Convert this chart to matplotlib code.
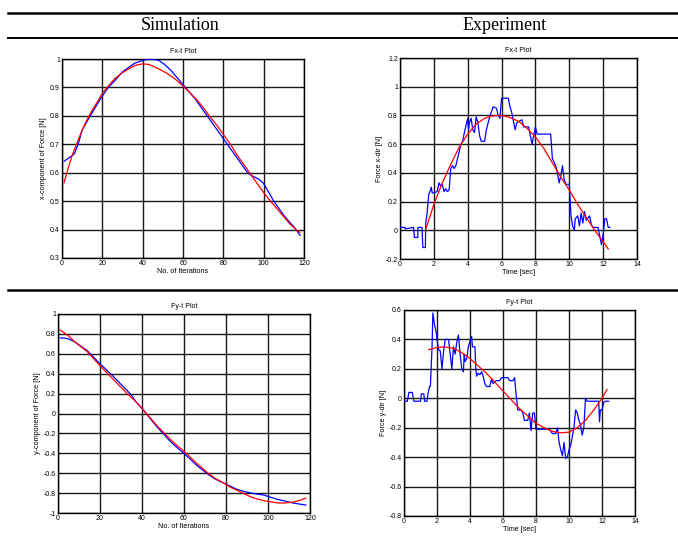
import numpy as np
import matplotlib
matplotlib.use("Agg")
import matplotlib.pyplot as plt
from matplotlib.ticker import FuncFormatter

plt.rcParams["font.family"] = ["Liberation Sans", "DejaVu Sans"]
plt.rcParams["axes.unicode_minus"] = False

# ---------------- simulation: Fx vs iterations ----------------
fx_sim_it = [1, 4, 6, 8, 10, 12, 14, 17, 20, 23, 27, 30, 33, 36, 40, 43, 46,
             48, 51, 54, 57, 60, 63, 66, 69, 72, 75, 78, 81, 84, 87, 90, 92,
             94, 96, 98, 100, 101, 103, 105, 108, 110, 113, 115, 118]
fx_sim_blue = [0.64, 0.655, 0.665, 0.70, 0.75, 0.775, 0.80, 0.835, 0.87,
               0.90, 0.93, 0.955, 0.97, 0.985, 0.995, 1.0, 0.998, 0.995,
               0.98, 0.96, 0.935, 0.91, 0.885, 0.86, 0.83, 0.80, 0.77, 0.74,
               0.71, 0.68, 0.65, 0.62, 0.60, 0.59, 0.583, 0.575, 0.562,
               0.55, 0.525, 0.50, 0.47, 0.45, 0.425, 0.41, 0.38]
fx_fit_it = [1, 3, 5, 8, 10, 13, 15, 18, 20, 23, 26, 30, 33, 36, 40, 43, 45,
             48, 52, 56, 60, 64, 67, 70, 73, 77, 80, 84, 87, 90, 93, 97, 100,
             104, 107, 110, 113, 116, 118]
fx_sim_red = [0.565, 0.615, 0.66, 0.715, 0.75, 0.795, 0.82, 0.855, 0.88,
              0.905, 0.93, 0.952, 0.965, 0.977, 0.983, 0.981, 0.975, 0.965,
              0.95, 0.93, 0.905, 0.877, 0.855, 0.83, 0.80, 0.765, 0.735,
              0.695, 0.66, 0.63, 0.60, 0.56, 0.53, 0.495, 0.47, 0.445, 0.42,
              0.40, 0.39]

# ---------------- simulation: Fy vs iterations ----------------
fy_sim_it = [1, 3, 5, 8, 11, 14, 17, 20, 23, 26, 29, 32, 35, 37, 40, 42, 45,
             47, 50, 53, 56, 60, 63, 66, 69, 72, 75, 79, 82, 85, 88, 92, 95,
             98, 101, 104, 108, 112, 115, 118]
fy_sim_blue = [0.76, 0.757, 0.75, 0.72, 0.675, 0.63, 0.565, 0.50, 0.44, 0.38,
               0.315, 0.25, 0.185, 0.12, 0.05, 0.0, -0.08, -0.13, -0.20,
               -0.27, -0.33, -0.40, -0.46, -0.52, -0.57, -0.62, -0.66, -0.70,
               -0.73, -0.76, -0.78, -0.80, -0.81, -0.82, -0.84, -0.86, -0.88,
               -0.90, -0.91, -0.92]
fy_fit_it = [1, 3, 5, 8, 11, 14, 17, 20, 23, 26, 29, 32, 35, 38, 40, 42, 45,
             47, 50, 53, 56, 60, 63, 66, 69, 72, 75, 79, 82, 86, 89, 92, 95,
             99, 102, 105, 108, 112, 115, 118]
fy_sim_red = [0.84, 0.81, 0.78, 0.72, 0.67, 0.62, 0.55, 0.48, 0.415, 0.35,
              0.285, 0.22, 0.16, 0.10, 0.05, 0.0, -0.07, -0.12, -0.185,
              -0.25, -0.31, -0.38, -0.44, -0.50, -0.555, -0.61, -0.655,
              -0.70, -0.74, -0.78, -0.81, -0.84, -0.86, -0.88, -0.89, -0.90,
              -0.90, -0.89, -0.875, -0.85]

# ---------------- experiment: Fx vs time ----------------
fx_exp_t = [0.0, 0.3, 0.31, 0.8, 0.85, 1.05, 1.06, 1.3, 1.35, 1.5, 1.52, 1.6,
            1.7, 1.8, 1.85, 1.9, 2.0, 2.2, 2.3, 2.4, 2.5, 2.6, 2.7, 2.8, 2.9,
            3.0, 3.1, 3.2, 3.3, 3.4, 3.5, 3.6, 3.7, 3.8, 3.9, 4.0, 4.05, 4.1,
            4.2, 4.3, 4.4, 4.5, 4.6, 4.7, 4.8, 5.0, 5.1, 5.3, 5.5, 5.7, 5.8,
            5.9, 6.0, 6.4, 6.5, 6.6, 6.7, 6.8, 6.9, 7.2, 7.3, 7.6, 7.8, 7.9,
            8.0, 8.1, 8.9, 9.0, 9.2, 9.3, 9.4, 9.5, 9.6, 9.7, 9.8, 10.0, 10.1,
            10.2, 10.3, 10.35, 10.5, 10.6, 10.7, 10.8, 10.9, 11.0, 11.2, 11.3,
            11.4, 11.7, 11.8, 11.9, 12.0, 12.1, 12.2, 12.3, 12.4]
fx_exp_blue = [0.02, 0.02, 0.01, 0.02, -0.05, -0.05, 0.02, 0.02, -0.12, -0.12,
               0.05, 0.12, 0.25, 0.28, 0.30, 0.26, 0.26, 0.27, 0.33, 0.31,
               0.32, 0.27, 0.29, 0.27, 0.28, 0.43, 0.45, 0.43, 0.45, 0.50,
               0.55, 0.60, 0.62, 0.68, 0.73, 0.78, 0.70, 0.75, 0.78, 0.70,
               0.68, 0.79, 0.75, 0.66, 0.62, 0.62, 0.70, 0.79, 0.86, 0.85,
               0.80, 0.78, 0.92, 0.92, 0.86, 0.82, 0.76, 0.70, 0.75, 0.77,
               0.72, 0.72, 0.60, 0.66, 0.72, 0.67, 0.67, 0.50, 0.45, 0.40,
               0.33, 0.38, 0.45, 0.35, 0.32, 0.32, 0.10, 0.03, 0.0, 0.08,
               0.10, 0.03, 0.12, 0.05, 0.13, 0.07, 0.10, 0.04, 0.02, 0.02,
               -0.04, -0.10, -0.03, 0.08, 0.08, 0.02, 0.02]
fx_exp_fit_t = [1.5, 2, 2.5, 3, 3.5, 4, 4.5, 5, 5.4, 5.8, 6.2, 6.5, 7, 7.5, 8,
                8.5, 9, 9.5, 10, 10.5, 11, 11.5, 12, 12.3]
fx_exp_red = [0.0, 0.18, 0.33, 0.46, 0.58, 0.67, 0.74, 0.78, 0.795, 0.80,
              0.795, 0.785, 0.76, 0.71, 0.65, 0.57, 0.47, 0.37, 0.28, 0.18,
              0.09, 0.0, -0.08, -0.13]

# ---------------- experiment: Fy vs time ----------------
fy_exp_t = [0.0, 0.2, 0.3, 0.5, 0.6, 1.0, 1.05, 1.2, 1.25, 1.4, 1.45, 1.55,
            1.6, 1.7, 1.75, 1.85, 1.95, 2.0, 2.1, 2.2, 2.3, 2.4, 2.5, 2.7, 2.8,
            2.9, 3.0, 3.1, 3.2, 3.3, 3.4, 3.5, 3.6, 3.65, 3.7, 3.8, 3.9, 4.0,
            4.1, 4.15, 4.3, 4.35, 4.4, 4.5, 4.6, 4.7, 4.8, 4.9, 5.0, 5.2, 5.3,
            5.4, 5.6, 5.8, 5.9, 6.3, 6.4, 6.6, 6.7, 6.8, 6.9, 7.1, 7.2, 7.3,
            7.5, 7.6, 7.7, 7.8, 7.9, 8.0, 8.8, 9.0, 9.2, 9.3, 9.4, 9.5, 9.6,
            9.7, 9.8, 9.9, 10.0, 10.1, 10.2, 10.3, 10.4, 10.5, 10.6, 10.7,
            10.8, 10.9, 11.0, 11.1, 11.3, 11.5, 11.8, 11.85, 11.9, 12.0, 12.1,
            12.2, 12.4]
fy_exp_blue = [-0.02, -0.02, 0.04, 0.04, -0.02, -0.02, 0.03, 0.03, -0.02,
               -0.02, 0.03, 0.08, 0.08, 0.35, 0.58, 0.50, 0.45, 0.40, 0.33,
               0.32, 0.20, 0.32, 0.40, 0.40, 0.30, 0.20, 0.35, 0.30, 0.38,
               0.43, 0.30, 0.20, 0.18, 0.30, 0.25, 0.27, 0.35, 0.39, 0.42,
               0.35, 0.35, 0.20, 0.15, 0.17, 0.16, 0.18, 0.15, 0.10, 0.08,
               0.08, 0.13, 0.10, 0.12, 0.12, 0.14, 0.14, 0.12, 0.12, 0.14,
               0.02, -0.08, -0.08, -0.10, -0.15, -0.15, -0.10, -0.22, -0.10,
               -0.10, -0.21, -0.21, -0.24, -0.24, -0.20, -0.30, -0.35, -0.39,
               -0.30, -0.41, -0.40, -0.35, -0.32, -0.26, -0.20, -0.08, -0.10,
               -0.15, -0.18, -0.25, -0.20, 0.0, -0.02, -0.02, -0.02, -0.02,
               -0.16, -0.08, -0.08, -0.03, -0.02, -0.02]
fy_exp_fit_t = [1.5, 2, 2.4, 3, 3.5, 4, 4.5, 5, 5.5, 6, 6.5, 7, 7.5, 8, 8.5,
                9, 9.5, 10, 10.5, 11, 11.5, 12, 12.3]
fy_exp_red = [0.33, 0.345, 0.35, 0.34, 0.31, 0.27, 0.22, 0.17, 0.11, 0.05,
              -0.01, -0.07, -0.12, -0.17, -0.20, -0.225, -0.235, -0.23, -0.20,
              -0.15, -0.08, 0.0, 0.06]

W, H = 678, 542
fig = plt.figure(figsize=(W / 100, H / 100), dpi=100)


def box(x0, y0, x1, y1):
    """pixel box (top-left origin) -> figure fraction rect"""
    return [x0 / W, 1 - y1 / H, (x1 - x0) / W, (y1 - y0) / H]


fmt = FuncFormatter(lambda v, p: f"{round(v, 6) + 0.0:g}")


def panel(rect, title, xlabel, ylabel, xlim, xticks, ylim, yticks,
          x_blue, y_blue, x_red, y_red):
    ax = fig.add_axes(rect)
    ax.plot(x_blue, y_blue, color="#0000ff", lw=0.9, zorder=3)
    ax.plot(x_red, y_red, color="#ff0000", lw=0.9, zorder=4)
    ax.set_xlim(*xlim)
    ax.set_ylim(*ylim)
    ax.set_xticks(xticks)
    ax.set_yticks(yticks)
    ax.xaxis.set_major_formatter(fmt)
    ax.yaxis.set_major_formatter(fmt)
    ax.grid(True, color="0.1", lw=1.0, ls="-")
    ax.set_axisbelow(True)
    ax.tick_params(direction="in", length=2, width=0.6, labelsize=5,
                   pad=1.5, colors="black", top=True, right=True)
    for s in ax.spines.values():
        s.set_linewidth(1.0)
    ax.set_title(title, fontsize=5, pad=4)
    ax.set_xlabel(xlabel, fontsize=5.2, labelpad=1)
    ax.set_ylabel(ylabel, fontsize=5.2, labelpad=2)
    return ax


panel(box(62, 59, 304, 258), "Fx-t Plot", "No. of Iterations",
      "x-component of Force [N]", (0, 120), np.arange(0, 121, 20),
      (0.3, 1.0), np.arange(0.3, 1.01, 0.1),
      fx_sim_it, fx_sim_blue, fx_fit_it, fx_sim_red)

panel(box(400, 58, 637, 259), "Fx-t Plot", "Time [sec]",
      "Force x-dir [N]", (0, 14), np.arange(0, 15, 2),
      (-0.2, 1.2), np.arange(-0.2, 1.21, 0.2),
      fx_exp_t, fx_exp_blue, fx_exp_fit_t, fx_exp_red)

panel(box(58, 314, 310, 513), "Fy-t Plot", "No. of Iterations",
      "y-component of Force [N]", (0, 120), np.arange(0, 121, 20),
      (-1, 1), np.arange(-1, 1.01, 0.2),
      fy_sim_it, fy_sim_blue, fy_fit_it, fy_sim_red)

panel(box(404, 310, 635, 516), "Fy-t Plot", "Time [sec]",
      "Force y-dir [N]", (0, 14), np.arange(0, 15, 2),
      (-0.8, 0.6), np.arange(-0.8, 0.61, 0.2),
      fy_exp_t, fy_exp_blue, fy_exp_fit_t, fy_exp_red)

# table-like header and rules
for y, lw in [(13, 1.8), (38, 1.4), (290, 1.8)]:
    fig.add_artist(plt.Line2D([8 / W, 1.0], [1 - y / H, 1 - y / H],
                              color="black", lw=lw))
fig.text(180 / W, 1 - 25 / H, "Simulation", ha="center", va="center",
         fontsize=13, family=["Liberation Serif", "DejaVu Serif"])
fig.text(505 / W, 1 - 25 / H, "Experiment", ha="center", va="center",
         fontsize=13, family=["Liberation Serif", "DejaVu Serif"])

fig.savefig("out.png", dpi=100)
